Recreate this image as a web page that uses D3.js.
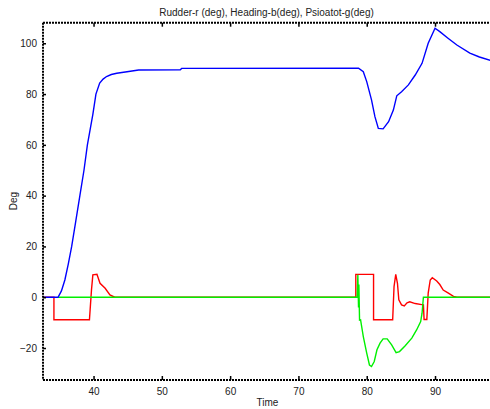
<!DOCTYPE html>
<html>
<head>
<meta charset="utf-8">
<script src="https://cdn.jsdelivr.net/npm/d3@7"></script>
<style>
  body { margin: 0; background: #fff; }
  svg { font-family: "Liberation Sans", Arial, sans-serif; }
</style>
</head>
<body>
<svg id="chart" width="490" height="409"></svg>
<script>
// time (s), value (deg)
const heading = [
  [32.6, 0], [34.8, 0], [35.3, 2.5], [35.8, 6.8], [36.3, 13], [36.8, 20], [37.4, 30], [38.0, 40],
  [38.6, 50], [39.1, 60], [39.5, 66], [39.9, 72], [40.35, 80], [40.9, 84.3], [41.4, 85.9],
  [41.9, 86.9], [42.6, 87.7], [43.4, 88.2], [44.9, 88.8], [46.6, 89.5], [52.7, 89.6], [52.9, 90.1],
  [78.8, 90.2], [79.5, 88.8], [80.0, 84.9], [80.7, 77.7], [81.2, 71.1], [81.7, 66.5],
  [82.4, 66.3], [83.2, 69.1], [83.9, 73.7], [84.4, 79.3], [85.1, 80.9], [86.1, 83.6],
  [87.1, 87.5], [88.1, 92.1], [89.0, 100], [90.0, 105.9], [90.7, 104.6], [91.9, 102],
  [93.2, 99.3], [95.1, 96.1], [96.5, 94.6], [98.1, 93.3]
];

const rudder = [
  [32.6, 0], [34.2, 0], [34.2, -8.9], [39.4, -8.9], [39.5, -5], [39.7, 2.9], [39.9, 8.8],
  [40.5, 9], [40.95, 5.5], [41.7, 3.5], [42.4, 0.9], [43.1, 0],
  [78.4, 0], [78.4, 9], [81.0, 9], [81.0, -8.9], [83.8, -8.9], [84.0, 4.2], [84.25, 9],
  [84.5, 5.5], [84.7, -1], [85.1, -3], [85.5, -3.4], [85.9, -2.2], [86.3, -1.8],
  [87.1, -2.5], [88.05, -2.9], [88.3, -3], [88.4, -8.8], [88.8, -8.8], [89.0, 1.6],
  [89.3, 6.8], [89.6, 7.7], [90.25, 6.4], [90.7, 5], [91.2, 2.8], [91.9, 1.7],
  [92.7, 0.3], [93.2, 0], [98.1, 0]
];

const psi = [
  [34.8, 0], [78.6, 0], [78.7, 8.8], [78.8, -4], [78.85, 5], [78.95, -9], [79.1, -8.9],
  [79.5, -15.5], [80.0, -22], [80.4, -26.7], [80.7, -27.3], [81.1, -25.3], [81.5, -20.7],
  [81.95, -18.1], [82.4, -16.4], [83.0, -16.4], [83.65, -18.8], [84.3, -21.8], [84.8, -21.4],
  [85.6, -19.2], [86.6, -16.1], [87.3, -12.9], [87.9, -9.6], [88.1, -6.3], [88.3, 0], [98.1, 0]
];

const xTicks = [40, 50, 60, 70, 80, 90];
const yTicks = [-20, 0, 20, 40, 60, 80, 100];

const svg = d3.select('#chart');
const mLeft = 43, mRight = 490, mTop = 22.7, mBottom = 380;

const x = d3.scaleLinear().domain([32.6, 98.05]).range([mLeft, mRight]);
const y = d3.scaleLinear().domain([-32.6, 108.1]).range([mBottom, mTop]);

svg.append('defs').append('clipPath').attr('id', 'clip')
  .append('rect').attr('x', mLeft).attr('y', mTop).attr('width', mRight - mLeft).attr('height', mBottom - mTop);

const line = d3.line().x(d => x(d[0])).y(d => y(d[1]));

const g = svg.append('g').attr('clip-path', 'url(#clip)');
g.append('path').datum(rudder).attr('d', line)
  .attr('fill', 'none').attr('stroke', '#ff0000').attr('stroke-width', 1.4);
g.append('path').datum(psi).attr('d', line)
  .attr('fill', 'none').attr('stroke', '#00f000').attr('stroke-width', 1.4);
g.append('path').datum(heading).attr('d', line)
  .attr('fill', 'none').attr('stroke', '#0000ff').attr('stroke-width', 1.4);

// frame
const frame = svg.append('g').attr('stroke', '#000').attr('stroke-width', 2)
  .attr('stroke-dasharray', '2,1').attr('fill', 'none');
frame.append('line').attr('x1', mLeft).attr('x2', mRight).attr('y1', mTop).attr('y2', mTop);
frame.append('line').attr('x1', mLeft).attr('x2', mRight).attr('y1', mBottom).attr('y2', mBottom);
frame.append('line').attr('x1', mLeft).attr('x2', mLeft).attr('y1', mTop).attr('y2', mBottom);

// axes (ticks inward)
const xAxisB = svg.append('g').attr('transform', `translate(0,${mBottom})`)
  .call(d3.axisBottom(x).tickValues(xTicks).tickSize(-4).tickPadding(8));
const xAxisT = svg.append('g').attr('transform', `translate(0,${mTop})`)
  .call(d3.axisTop(x).tickValues(xTicks).tickSize(-4).tickFormat(''));
const yAxis = svg.append('g').attr('transform', `translate(${mLeft},0)`)
  .call(d3.axisLeft(y).tickValues(yTicks).tickSize(-3).tickPadding(6));

[xAxisB, xAxisT, yAxis].forEach(a => {
  a.select('.domain').remove();
  a.selectAll('line').attr('stroke', '#000').attr('stroke-width', 1.5);
  a.selectAll('text').attr('font-size', 10).attr('fill', '#222')
    .attr('font-family', '"Liberation Sans", Arial, sans-serif');
});

svg.append('text').attr('x', 266.5).attr('y', 15.5).attr('text-anchor', 'middle')
  .attr('font-size', 10).attr('fill', '#222')
  .text('Rudder-r (deg), Heading-b(deg), Psioatot-g(deg)');

svg.append('text').attr('x', 267.5).attr('y', 406).attr('text-anchor', 'middle')
  .attr('font-size', 10).attr('fill', '#222').text('Time');

svg.append('text').attr('transform', 'translate(17,201) rotate(-90)').attr('text-anchor', 'middle')
  .attr('font-size', 10).attr('fill', '#222').text('Deg');
</script>
</body>
</html>
